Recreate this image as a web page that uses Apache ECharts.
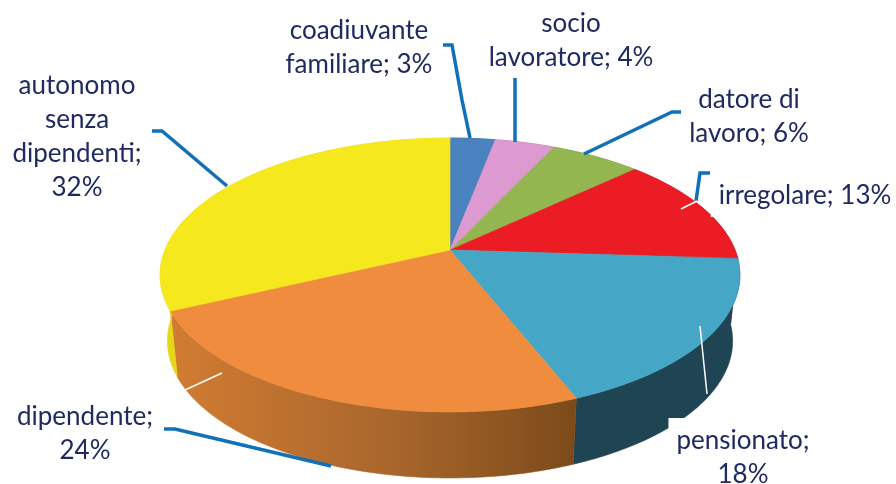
<!DOCTYPE html>
<html>
<head>
<meta charset="utf-8">
<title>Posizione lavorativa</title>
<style>
  html, body { margin: 0; padding: 0; background: #fff; }
  #chart { width: 896px; height: 484px; }
</style>
</head>
<body>
<div id="chart"></div>
<script src="https://cdn.jsdelivr.net/npm/echarts@6/dist/echarts.min.js"></script>
<script>
// slices clockwise from 12 o'clock
const categories = ["coadiuvante familiare", "socio lavoratore", "datore di lavoro", "irregolare", "pensionato", "dipendente", "autonomo senza dipendenti"];
const shares = [3, 4, 6, 13, 18, 24, 32];
const labels = [
  "coadiuvante\nfamiliare; 3%",
  "socio\nlavoratore; 4%",
  "datore di\nlavoro; 6%",
  "irregolare; 13%",
  "pensionato;\n18%",
  "dipendente;\n24%",
  "autonomo\nsenza\ndipendenti;\n32%"
];

const topColors = ["#4a82c0", "#dc9ad0", "#93b650", "#ec1c24", "#45a6c6", "#f08c3e", "#f5e81c"];
const wallColors = ["#2f5a8a", "#a06a98", "#6a8a3a", "#a81418", "#1f4454", null, "#e6d818"];

// page-pixel layout of the labels and leader lines
const labelPos = [[359, 48], [571, 41], [749, 117], [801, 196], [744, 458], [85, 434], [77, 137]];
const labelPadding = [null, null, null, [4, 0, 4, 8], [6, 10, 6, 8], null, null];
const blueLeaders = [
  [[443, 45], [452, 45], [462, 100], [470, 138]],
  [[515, 78], [515, 142]],
  [[681, 112], [672, 112], [584, 154]],
  [[710, 173], [700, 173], [696, 201]],
  [[152, 131], [162, 131], [227, 186]],
  [[164, 429], [175, 429], [331, 466]]
];
const whiteLeaders = [
  [[681, 209], [697, 201]],
  [[700, 326], [707, 394]],
  [[185, 390], [222, 373]]
];

// perspective disc: apex sits above the centre of the rim ellipse
const apexX = 450, apexY = 250, discR = 285, discK = 132.4, persp = 0.1825, wallDepth = 66, bottomScale = 0.975;

function rimPoint(turn, drop, scale) {
  const a = turn * 2 * Math.PI;
  const u = Math.sin(a), v = -Math.cos(a);
  const w = 1 / (1 - persp * v);
  return [apexX + discR * scale * u * w, apexY + drop + discK * v * w];
}

function arcPoints(from, to, drop, scale) {
  const steps = Math.max(2, Math.ceil((to - from) * 360));
  const pts = [];
  for (let i = 0; i <= steps; i++) {
    pts.push(rimPoint(from + (to - from) * i / steps, drop, scale));
  }
  return pts;
}

let running = 0;
const sliceData = shares.map(function (s, i) {
  const row = [running / 100, (running + s) / 100, i];
  running += s;
  return row;
});

function polygon(api, pts, fill) {
  return {
    type: "polygon",
    shape: { points: pts.map(function (p) { return api.coord(p); }) },
    style: { fill: fill, stroke: fill, lineWidth: 0.6 }
  };
}

function renderWall(params, api) {
  const from = api.value(0), to = api.value(1), i = api.value(2);
  const fill = wallColors[i] || new echarts.graphic.LinearGradient(0, 0, 1, 0, [
    { offset: 0, color: "#d27c32" },
    { offset: 0.55, color: "#a8662c" },
    { offset: 1, color: "#7c4a1a" }
  ]);
  const pts = arcPoints(from, to, 0, 1).concat(arcPoints(from, to, wallDepth, bottomScale).reverse());
  return polygon(api, pts, fill);
}

function renderTop(params, api) {
  const from = api.value(0), to = api.value(1), i = api.value(2);
  return polygon(api, [[apexX, apexY]].concat(arcPoints(from, to, 0, 1)), topColors[i]);
}

function renderLabel(params, api) {
  const i = api.value(2);
  const at = api.coord(labelPos[i]);
  return {
    type: "text",
    x: at[0],
    y: at[1],
    style: {
      text: labels[i],
      fill: "#1f2a60",
      font: '26px Lato, "Open Sans", sans-serif',
      lineHeight: 34,
      align: "center",
      verticalAlign: "middle",
      backgroundColor: labelPadding[i] ? "#fff" : null,
      padding: labelPadding[i] || 0
    }
  };
}

function leaderSeries(name, lines, color, width) {
  return {
    name: name,
    type: "custom",
    coordinateSystem: "cartesian2d",
    silent: true,
    clip: false,
    z: 4,
    data: lines.map(function (l, i) { return [i]; }),
    renderItem: function (params, api) {
      return {
        type: "polyline",
        shape: { points: lines[api.value(0)].map(function (p) { return api.coord(p); }) },
        style: { fill: null, stroke: color, lineWidth: width, lineJoin: "miter" }
      };
    }
  };
}

function sliceSeries(name, z, renderItem) {
  return {
    name: name,
    type: "custom",
    coordinateSystem: "cartesian2d",
    silent: true,
    clip: false,
    z: z,
    data: sliceData,
    renderItem: renderItem
  };
}

const myChart = echarts.init(document.getElementById("chart"), null, { renderer: "canvas" });
const option = {
  animation: false,
  backgroundColor: "#fff",
  grid: { left: 0, right: 0, top: 0, bottom: 0 },
  xAxis: { type: "value", min: 0, max: 896, show: false },
  yAxis: { type: "value", min: 0, max: 484, inverse: true, show: false },
  series: [
    sliceSeries("wall", 1, renderWall),
    sliceSeries("top", 2, renderTop),
    sliceSeries("labels", 3, renderLabel),
    leaderSeries("blue leaders", blueLeaders, "#1070b8", 3.5),
    leaderSeries("white leaders", whiteLeaders, "#ffffff", 1.5)
  ]
};
myChart.setOption(option);
window.addEventListener("resize", function () {
  myChart.resize();
});
</script>
</body>
</html>
